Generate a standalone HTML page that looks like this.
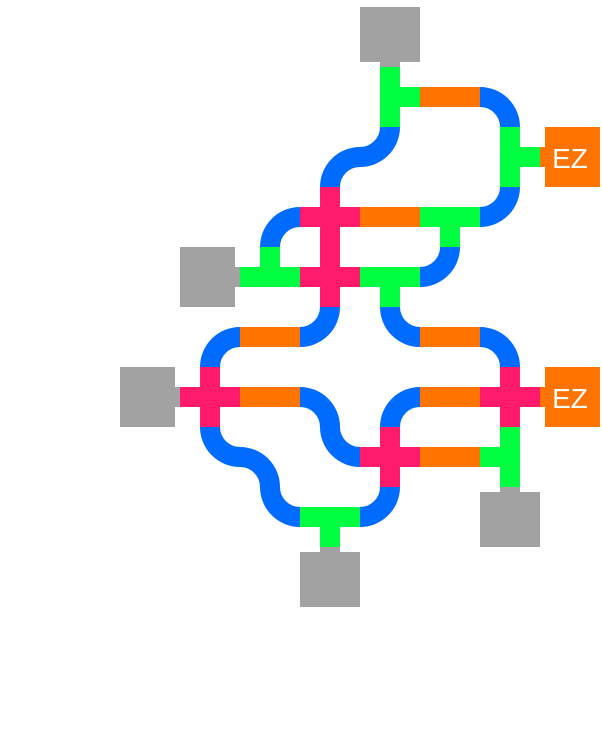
<!DOCTYPE html>
<html><head><meta charset="utf-8"><style>
html,body{margin:0;padding:0;background:#fff;}
svg{display:block;}
</style></head><body>
<svg width="602" height="729" viewBox="0 0 602 729" xmlns="http://www.w3.org/2000/svg">
<rect width="602" height="729" fill="#fff"/>
<!-- blue curves -->
<g fill="none" stroke="#006cff" stroke-width="20" stroke-linecap="butt">
<path d="M480 97 A30 30 0 0 1 510 127"/>
<path d="M390 127 A30 30 0 0 1 360 157"/>
<path d="M360 157 A30 30 0 0 0 330 187"/>
<path d="M300 217 A30 30 0 0 0 270 247"/>
<path d="M510 187 A30 30 0 0 1 480 217"/>
<path d="M420 277 A30 30 0 0 0 450 247"/>
<path d="M240 337 A30 30 0 0 0 210 367"/>
<path d="M330 307 A30 30 0 0 1 300 337"/>
<path d="M390 307 A30 30 0 0 0 420 337"/>
<path d="M480 337 A30 30 0 0 1 510 367"/>
<path d="M300 397 A30 30 0 0 1 330 427"/>
<path d="M420 397 A30 30 0 0 0 390 427"/>
<path d="M210 427 A30 30 0 0 0 240 457"/>
<path d="M240 457 A30 30 0 0 1 270 487"/>
<path d="M330 427 A30 30 0 0 0 360 457"/>
<path d="M270 487 A30 30 0 0 0 300 517"/>
<path d="M360 517 A30 30 0 0 0 390 487"/>
</g>
<!-- orange straights -->
<g fill="#ff7300">
<rect x="420" y="87" width="60" height="20"/>
<rect x="360" y="207" width="60" height="20"/>
<rect x="240" y="327" width="60" height="20"/>
<rect x="420" y="327" width="60" height="20"/>
<rect x="240" y="387" width="60" height="20"/>
<rect x="420" y="387" width="60" height="20"/>
<rect x="420" y="447" width="60" height="20"/>
</g>
<!-- green T junctions -->
<g fill="#00ff41">
<rect x="380" y="67" width="20" height="60"/><rect x="400" y="87" width="20" height="20"/>
<rect x="500" y="127" width="20" height="60"/><rect x="520" y="147" width="20" height="20"/>
<rect x="420" y="207" width="60" height="20"/><rect x="440" y="227" width="20" height="20"/>
<rect x="240" y="267" width="60" height="20"/><rect x="260" y="247" width="20" height="20"/>
<rect x="360" y="267" width="60" height="20"/><rect x="380" y="287" width="20" height="20"/>
<rect x="500" y="427" width="20" height="60"/><rect x="480" y="447" width="20" height="20"/>
<rect x="300" y="507" width="60" height="20"/><rect x="320" y="527" width="20" height="20"/>
</g>
<!-- magenta crosses -->
<g fill="#ff1a6b">
<rect x="300" y="207" width="60" height="20"/><rect x="320" y="187" width="20" height="60"/>
<rect x="300" y="267" width="60" height="20"/><rect x="320" y="247" width="20" height="60"/>
<rect x="180" y="387" width="60" height="20"/><rect x="200" y="367" width="20" height="60"/>
<rect x="480" y="387" width="60" height="20"/><rect x="500" y="367" width="20" height="60"/>
<rect x="360" y="447" width="60" height="20"/><rect x="380" y="427" width="20" height="60"/>
</g>
<!-- gray terminals -->
<g fill="#a2a2a2">
<rect x="360" y="7" width="60" height="55"/><rect x="380" y="62" width="20" height="5"/>
<rect x="180" y="247" width="55" height="60"/><rect x="235" y="267" width="5" height="20"/>
<rect x="120" y="367" width="55" height="60"/><rect x="175" y="387" width="5" height="20"/>
<rect x="480" y="492" width="60" height="55"/><rect x="500" y="487" width="20" height="5"/>
<rect x="300" y="552" width="60" height="55"/><rect x="320" y="547" width="20" height="5"/>
</g>
<!-- EZ terminals -->
<g fill="#ff7300">
<rect x="545" y="127" width="55" height="60"/><rect x="540" y="147" width="5" height="20"/>
<rect x="545" y="367" width="55" height="60"/><rect x="540" y="387" width="5" height="20"/>
</g>
<g fill="#fff" font-family="Liberation Sans, sans-serif" font-size="28" text-anchor="middle">
<text x="570" y="168">EZ</text>
<text x="570" y="408">EZ</text>
</g>
</svg>
</body></html>
